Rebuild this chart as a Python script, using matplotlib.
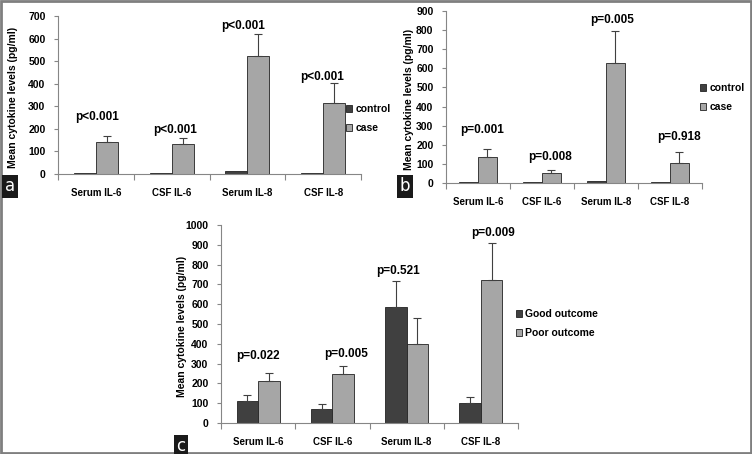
import numpy as np
import matplotlib
matplotlib.use("Agg")
import matplotlib.pyplot as plt
import matplotlib.patches as patches

plt.rcParams['font.family'] = ['Liberation Sans', 'DejaVu Sans']
plt.rcParams['font.weight'] = 'bold'

categories = ['Serum IL-6', 'CSF IL-6', 'Serum IL-8', 'CSF IL-8']

# panel a: control vs case
a_control = [5, 5, 12, 3]
a_case = [143, 131, 523, 316]
a_case_err = [25, 27, 96, 89]
a_pvals = ['p<0.001', 'p<0.001', 'p<0.001', 'p<0.001']
a_p_y = [254, 195, 656, 431]

# panel b: control vs case
b_control = [5, 3, 12, 6]
b_case = [136, 52, 626, 105]
b_case_err = [44, 14, 169, 58]
b_pvals = ['p=0.001', 'p=0.008', 'p=0.005', 'p=0.918']
b_p_y = [276, 136, 853, 241]

# panel c: good vs poor outcome
c_good = [109, 71, 584, 102]
c_good_err = [34, 25, 134, 31]
c_poor = [210, 247, 399, 722]
c_poor_err = [42, 41, 133, 189]
c_pvals = ['p=0.022', 'p=0.005', 'p=0.521', 'p=0.009']
c_p_y = [336, 348, 770, 961]

DARK = '#404040'
LIGHT = '#a6a6a6'
AXIS = '#868686'
W, H = 752, 454


def fig_box(left, top, right, bottom):
    # pixel box -> figure fraction
    return [left / W, 1 - bottom / H, (right - left) / W, (bottom - top) / H]


def draw_panel(ax, s1, s2, e1, e2, pvals, p_y, p_dx, ymax, step, labels, leg_xy):
    x = np.arange(len(categories))
    bw = 0.29
    b1 = ax.bar(x - bw / 2, s1, bw, color=DARK, edgecolor='#222222', linewidth=0.6, label=labels[0])
    b2 = ax.bar(x + bw / 2, s2, bw, color=LIGHT, edgecolor='#222222', linewidth=0.6, label=labels[1])
    if e1 is not None:
        ax.errorbar(x - bw / 2, s1, yerr=[np.zeros(len(e1)), e1], fmt='none',
                    ecolor=DARK, elinewidth=0.8, capsize=3, capthick=0.8)
    ax.errorbar(x + bw / 2, s2, yerr=[np.zeros(len(e2)), e2], fmt='none',
                ecolor=DARK, elinewidth=0.8, capsize=3, capthick=0.8)
    for i, (t, yy) in enumerate(zip(pvals, p_y)):
        ax.text(i + p_dx[i], yy, t, ha='center', va='center', fontsize=8.5, fontweight='bold')

    ax.set_xlim(-0.5, len(categories) - 0.5)
    ax.set_ylim(0, ymax)
    ax.set_yticks(np.arange(0, ymax + 1, step))
    ax.set_xticks(np.arange(-0.5, len(categories), 1.0))
    ax.set_xticklabels([])
    ax.set_xticks(x, minor=True)
    ax.set_xticklabels(categories, minor=True)
    ax.tick_params(axis='x', which='minor', length=0, pad=10, labelsize=7)
    ax.tick_params(axis='x', which='major', length=4, direction='out', color=AXIS)
    ax.tick_params(axis='y', length=3, direction='out', color=AXIS, labelsize=7.5, pad=6)
    for lab in ax.get_xticklabels(minor=True) + ax.get_yticklabels():
        lab.set_fontweight('bold')
    for s in ['top', 'right']:
        ax.spines[s].set_visible(False)
    for s in ['left', 'bottom']:
        ax.spines[s].set_color(AXIS)
        ax.spines[s].set_linewidth(0.8)
    ax.set_facecolor('none')

    leg = ax.legend(handles=[b1, b2], loc='upper left',
                    bbox_to_anchor=(leg_xy[0] / W, 1 - leg_xy[1] / H),
                    bbox_transform=fig.transFigure, frameon=False,
                    fontsize=7.5, handlelength=0.6, handleheight=0.6,
                    handletextpad=0.3, labelspacing=0.9, borderaxespad=0, borderpad=0)
    for t in leg.get_texts():
        t.set_fontweight('bold')


fig = plt.figure(figsize=(7.52, 4.54), dpi=100)

ax_a = fig.add_axes(fig_box(58, 16, 361, 174))
draw_panel(ax_a, a_control, a_case, None, a_case_err, a_pvals, a_p_y,
           [0.01, 0.05, -0.05, -0.02], 700, 100, ['control', 'case'], (346, 104))

ax_b = fig.add_axes(fig_box(446, 11, 702, 183))
draw_panel(ax_b, b_control, b_case, None, b_case_err, b_pvals, b_p_y,
           [0.06, 0.12, 0.1, 0.14], 900, 100, ['control', 'case'], (700, 83))

ax_c = fig.add_axes(fig_box(221, 225, 518, 423))
draw_panel(ax_c, c_good, c_poor, c_good_err, c_poor_err, c_pvals, c_p_y,
           [0.0, 0.19, -0.12, 0.16], 1000, 100, ['Good outcome', 'Poor outcome'], (516, 309))

# y labels
for px, py in [(13, 97), (409, 99), (182, 326)]:
    fig.text(px / W, 1 - py / H, 'Mean cytokine levels (pg/ml)', rotation=90,
             ha='center', va='center', fontsize=7.5, fontweight='bold')

# panel letters
for letter, px, py in [('a', 10, 186), ('b', 405, 186), ('c', 181, 446)]:
    fig.text(px / W, 1 - py / H, letter, ha='center', va='center', color='white',
             fontsize=12, family='DejaVu Sans', fontweight='normal',
             bbox=dict(boxstyle='square,pad=0.15', facecolor='#1a1a1a', edgecolor='none'))

# outer frame
fig.patches.append(patches.Rectangle((0.0015, 0.002), 0.997, 0.996, transform=fig.transFigure,
                                     fill=False, edgecolor='#7f7f7f', linewidth=2))

fig.savefig('out.png', dpi=100, facecolor='white')
